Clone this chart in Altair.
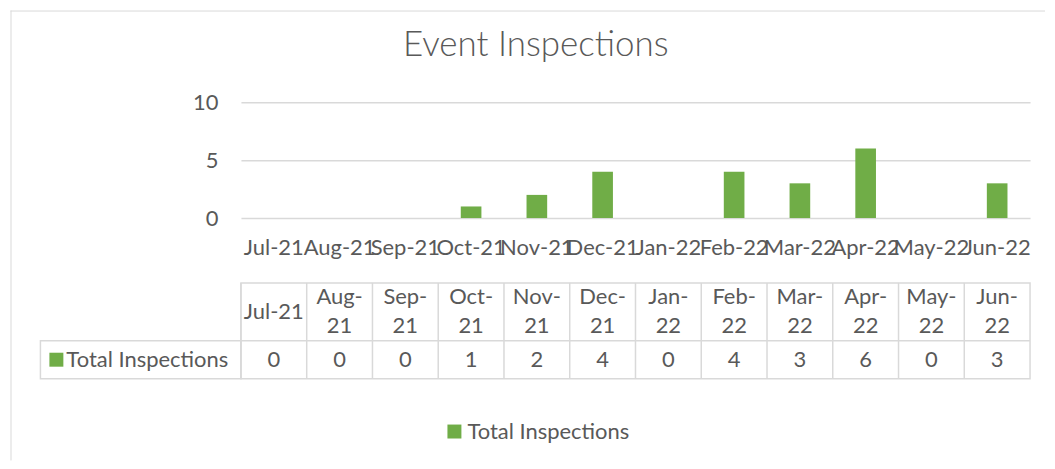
import altair as alt
import pandas as pd

# ---------------- data ----------------
months = ["Jul-21", "Aug-21", "Sep-21", "Oct-21", "Nov-21", "Dec-21",
          "Jan-22", "Feb-22", "Mar-22", "Apr-22", "May-22", "Jun-22"]
# table header: one-line label (only Jul-21 fits) or two wrapped lines
header_single = ["Jul-21", "", "", "", "", "", "", "", "", "", "", ""]
header_top = ["", "Aug-", "Sep-", "Oct-", "Nov-", "Dec-",
              "Jan-", "Feb-", "Mar-", "Apr-", "May-", "Jun-"]
header_bottom = ["", "21", "21", "21", "21", "21", "22", "22", "22", "22", "22", "22"]
inspections = [0, 0, 0, 1, 2, 4, 0, 4, 3, 6, 0, 3]
series_name = "Total Inspections"
y_ticks = [0, 5, 10]
title_text = "Event Inspections"

# ---------------- style ----------------
GREEN = "#70AD47"
TEXT = "#595959"
GRID = "#D9D9D9"
FONT = "Lato"
FS = 22

bars_df = pd.DataFrame({"month": months, "value": inspections, "series": series_name})
header_df = pd.DataFrame({
    "month": months, "row": "header",
    "single": header_single, "top": header_top, "bottom": header_bottom,
})
values_df = pd.DataFrame({
    "month": months, "row": "values", "text": [str(v) for v in inspections],
})
label_df = pd.DataFrame({"series": [series_name], "row": ["values"]})
one_df = pd.DataFrame({"k": [0]})

x_scale = alt.Scale(domain=months, paddingInner=0, paddingOuter=0)

bars = alt.Chart(bars_df).mark_bar(width=alt.RelativeBandSize(band=0.314)).encode(
    x=alt.X("month:N", sort=months, scale=x_scale,
            axis=alt.Axis(title=None, labelAngle=0, ticks=False, domain=False,
                          labelPadding=20, labelFontSize=FS, labelColor=TEXT,
                          labelFont=FONT, grid=False, labelOverlap=False)),
    y=alt.Y("value:Q", scale=alt.Scale(domain=[0, 10], nice=False),
            axis=alt.Axis(values=y_ticks, title=None, ticks=False, domain=False,
                          grid=True, gridColor=GRID, gridWidth=1.5,
                          labelPadding=23, labelFontSize=FS, labelColor=TEXT,
                          labelFont=FONT)),
    color=alt.Color("series:N", scale=alt.Scale(domain=[series_name], range=[GREEN]),
                    legend=alt.Legend(orient="none", legendX=203, legendY=319,
                                      direction="horizontal", title=None,
                                      symbolType="square", symbolSize=196,
                                      symbolStrokeWidth=0, labelFontSize=FS,
                                      labelFont=FONT, labelColor=TEXT,
                                      labelOffset=2, padding=0, labelLimit=400)),
).properties(
    width=791, height=116,
    title=alt.TitleParams(title_text, font=FONT, fontSize=35, fontWeight=300,
                          color=TEXT, anchor="middle", frame="group",
                          baseline="alphabetic", offset=0, dx=-100),
)

row_scale = alt.Scale(type="point", domain=["header", "values"], range=[29, 77], padding=0)
x_table = alt.X("month:N", sort=months, scale=x_scale, axis=None)
y_table = alt.Y("row:N", scale=row_scale, axis=None)


def table_text(df, field, dy):
    return alt.Chart(df).mark_text(
        fontSize=FS, font=FONT, color=TEXT, baseline="middle", align="center", dy=dy
    ).encode(x=x_table, y=y_table, text=f"{field}:N")


head_single = table_text(header_df, "single", 0)
head_top = table_text(header_df, "top", -14.5)
head_bottom = table_text(header_df, "bottom", 14.5)
vals = table_text(values_df, "text", 0)

# cell separators at the left edge of each month column
col_lines = alt.Chart(header_df).mark_rule(color=GRID, strokeWidth=1.5).encode(
    x=alt.X("month:N", sort=months, scale=x_scale, axis=None, bandPosition=0),
    y=alt.value(0), y2=alt.value("height"))

divider = alt.Chart(one_df).mark_rule(color=GRID, strokeWidth=1.5).encode(
    x=alt.value(0), x2=alt.value("width"), y=alt.value(58))

label_cell = alt.Chart(one_df).mark_rect(filled=False, color=GRID, strokeWidth=1.5).encode(
    x=alt.value(-201), x2=alt.value(0), y=alt.value(58), y2=alt.value("height"))

label_square = alt.Chart(label_df).mark_square(size=196, color=GREEN, opacity=1).encode(
    x=alt.value(-185), y=y_table)

label_text = alt.Chart(label_df).mark_text(
    fontSize=FS, font=FONT, color=TEXT, align="left", baseline="middle").encode(
    x=alt.value(-175), y=y_table, text="series:N")

# chart-area frame (left and top edges)
border_left = alt.Chart(one_df).mark_rule(color=GRID, strokeWidth=1).encode(
    x=alt.value(-230.5), y=alt.value(-273), y2=alt.value(178))
border_top = alt.Chart(one_df).mark_rule(color=GRID, strokeWidth=1).encode(
    x=alt.value(-231), x2=alt.value(806), y=alt.value(-272.5))

table_chart = alt.layer(
    col_lines, divider, label_cell, head_single, head_top, head_bottom, vals,
    label_square, label_text, border_left, border_top
).properties(
    width=791, height=96,
    view=alt.ViewBackground(stroke=GRID, strokeWidth=1.5),
)

chart = alt.vconcat(bars, table_chart, spacing=65, bounds="flush").configure_view(
    strokeWidth=0
).properties(
    padding={"left": 0.5, "top": 0, "right": 0, "bottom": 0},
    background="white",
)

chart.save("out.html", embed_options={"renderer": "svg", "actions": False})
